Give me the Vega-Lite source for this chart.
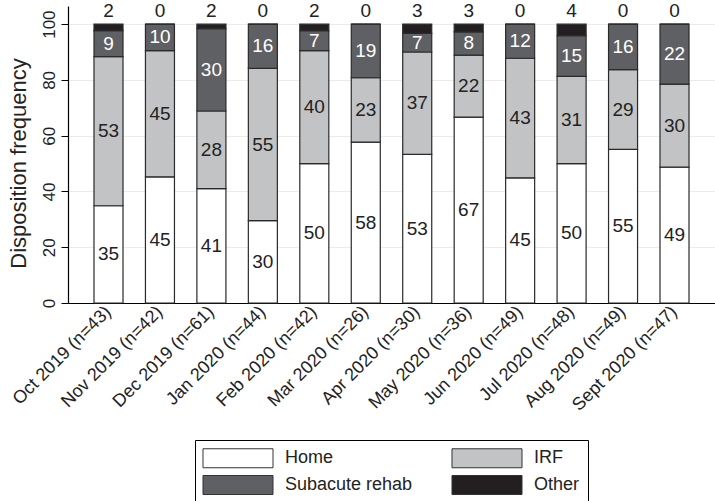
{
  "$schema": "https://vega.github.io/schema/vega-lite/v6.json",
  "width": 647,
  "height": 297,
  "autosize": {"type": "none"},
  "padding": {"left": 68, "top": 6, "right": 0, "bottom": 198},
  "background": "white",
  "config": {
    "font": "Liberation Sans",
    "view": {"stroke": null},
    "axis": {"labelFont": "Liberation Sans", "titleFont": "Liberation Sans", "labelColor": "#222", "titleColor": "#222"},
    "legend": {"labelFont": "Liberation Sans"}
  },
  "data": {
    "values": [
      {"month": "Oct 2019 (n=43)", "category": "Home", "ord": 1, "value": 34.88},
      {"month": "Oct 2019 (n=43)", "category": "IRF", "ord": 2, "value": 53.49},
      {"month": "Oct 2019 (n=43)", "category": "Subacute rehab", "ord": 3, "value": 9.30},
      {"month": "Oct 2019 (n=43)", "category": "Other", "ord": 4, "value": 2.33},
      {"month": "Nov 2019 (n=42)", "category": "Home", "ord": 1, "value": 45.24},
      {"month": "Nov 2019 (n=42)", "category": "IRF", "ord": 2, "value": 45.24},
      {"month": "Nov 2019 (n=42)", "category": "Subacute rehab", "ord": 3, "value": 9.52},
      {"month": "Nov 2019 (n=42)", "category": "Other", "ord": 4, "value": 0},
      {"month": "Dec 2019 (n=61)", "category": "Home", "ord": 1, "value": 40.98},
      {"month": "Dec 2019 (n=61)", "category": "IRF", "ord": 2, "value": 27.87},
      {"month": "Dec 2019 (n=61)", "category": "Subacute rehab", "ord": 3, "value": 29.51},
      {"month": "Dec 2019 (n=61)", "category": "Other", "ord": 4, "value": 1.64},
      {"month": "Jan 2020 (n=44)", "category": "Home", "ord": 1, "value": 29.55},
      {"month": "Jan 2020 (n=44)", "category": "IRF", "ord": 2, "value": 54.55},
      {"month": "Jan 2020 (n=44)", "category": "Subacute rehab", "ord": 3, "value": 15.91},
      {"month": "Jan 2020 (n=44)", "category": "Other", "ord": 4, "value": 0},
      {"month": "Feb 2020 (n=42)", "category": "Home", "ord": 1, "value": 50.00},
      {"month": "Feb 2020 (n=42)", "category": "IRF", "ord": 2, "value": 40.48},
      {"month": "Feb 2020 (n=42)", "category": "Subacute rehab", "ord": 3, "value": 7.14},
      {"month": "Feb 2020 (n=42)", "category": "Other", "ord": 4, "value": 2.38},
      {"month": "Mar 2020 (n=26)", "category": "Home", "ord": 1, "value": 57.69},
      {"month": "Mar 2020 (n=26)", "category": "IRF", "ord": 2, "value": 23.08},
      {"month": "Mar 2020 (n=26)", "category": "Subacute rehab", "ord": 3, "value": 19.23},
      {"month": "Mar 2020 (n=26)", "category": "Other", "ord": 4, "value": 0},
      {"month": "Apr 2020 (n=30)", "category": "Home", "ord": 1, "value": 53.33},
      {"month": "Apr 2020 (n=30)", "category": "IRF", "ord": 2, "value": 36.67},
      {"month": "Apr 2020 (n=30)", "category": "Subacute rehab", "ord": 3, "value": 6.67},
      {"month": "Apr 2020 (n=30)", "category": "Other", "ord": 4, "value": 3.33},
      {"month": "May 2020 (n=36)", "category": "Home", "ord": 1, "value": 66.67},
      {"month": "May 2020 (n=36)", "category": "IRF", "ord": 2, "value": 22.22},
      {"month": "May 2020 (n=36)", "category": "Subacute rehab", "ord": 3, "value": 8.33},
      {"month": "May 2020 (n=36)", "category": "Other", "ord": 4, "value": 2.78},
      {"month": "Jun 2020 (n=49)", "category": "Home", "ord": 1, "value": 44.90},
      {"month": "Jun 2020 (n=49)", "category": "IRF", "ord": 2, "value": 42.86},
      {"month": "Jun 2020 (n=49)", "category": "Subacute rehab", "ord": 3, "value": 12.24},
      {"month": "Jun 2020 (n=49)", "category": "Other", "ord": 4, "value": 0},
      {"month": "Jul 2020 (n=48)", "category": "Home", "ord": 1, "value": 50.00},
      {"month": "Jul 2020 (n=48)", "category": "IRF", "ord": 2, "value": 31.25},
      {"month": "Jul 2020 (n=48)", "category": "Subacute rehab", "ord": 3, "value": 14.58},
      {"month": "Jul 2020 (n=48)", "category": "Other", "ord": 4, "value": 4.17},
      {"month": "Aug 2020 (n=49)", "category": "Home", "ord": 1, "value": 55.10},
      {"month": "Aug 2020 (n=49)", "category": "IRF", "ord": 2, "value": 28.57},
      {"month": "Aug 2020 (n=49)", "category": "Subacute rehab", "ord": 3, "value": 16.33},
      {"month": "Aug 2020 (n=49)", "category": "Other", "ord": 4, "value": 0},
      {"month": "Sept 2020 (n=47)", "category": "Home", "ord": 1, "value": 48.70},
      {"month": "Sept 2020 (n=47)", "category": "IRF", "ord": 2, "value": 29.80},
      {"month": "Sept 2020 (n=47)", "category": "Subacute rehab", "ord": 3, "value": 21.50},
      {"month": "Sept 2020 (n=47)", "category": "Other", "ord": 4, "value": 0}
    ]
  },
  "encoding": {
    "x": {
      "field": "month",
      "type": "nominal",
      "sort": ["Oct 2019 (n=43)", "Nov 2019 (n=42)", "Dec 2019 (n=61)", "Jan 2020 (n=44)", "Feb 2020 (n=42)", "Mar 2020 (n=26)", "Apr 2020 (n=30)", "May 2020 (n=36)", "Jun 2020 (n=49)", "Jul 2020 (n=48)", "Aug 2020 (n=49)", "Sept 2020 (n=47)"],
      "scale": {"paddingInner": 0.436, "paddingOuter": 0.505},
      "axis": {
        "title": null,
        "labelAngle": -45,
        "labelAlign": "right",
        "labelBaseline": "middle",
        "labelFontSize": 18,
        "labelPadding": 6,
        "ticks": false,
        "domainColor": "black",
        "domainWidth": 1.2,
        "grid": false
      }
    }
  },
  "layer": [
    {
      "mark": {"type": "bar", "stroke": "#2a2a2a", "strokeWidth": 1.2},
      "encoding": {
        "y": {
          "field": "value",
          "type": "quantitative",
          "stack": "zero",
          "scale": {"domain": [0, 106.5], "nice": false, "zero": true},
          "axis": {
            "title": "Disposition frequency",
            "values": [0, 20, 40, 60, 80, 100],
            "labelAngle": -90,
            "labelAlign": "center",
            "labelBaseline": "alphabetic",
            "labelFontSize": 17,
            "labelPadding": 7,
            "tickSize": 7,
            "tickColor": "black",
            "domainColor": "black",
            "domainWidth": 1.2,
            "grid": true,
            "gridColor": "#ebebeb",
            "gridWidth": 1,
            "titleFontSize": 22,
            "titleFontWeight": "normal",
            "titleAngle": -90,
            "titleAlign": "center",
            "titleBaseline": "bottom",
            "titleX": -38,
            "titleY": 157
          }
        },
        "color": {
          "field": "category",
          "type": "nominal",
          "scale": {
            "domain": ["Home", "IRF", "Subacute rehab", "Other"],
            "range": ["#ffffff", "#c2c3c5", "#5f6064", "#231f20"]
          },
          "legend": {
            "title": null,
            "orient": "none",
            "legendX": 127,
            "legendY": 434,
            "columns": 2,
            "direction": "horizontal",
            "symbolType": "M-1.053,-1H6.316V1H-1.053Z",
            "symbolSize": 361,
            "symbolStrokeColor": "#333",
            "symbolStrokeWidth": 1,
            "symbolOpacity": 1,
            "symbolOffset": 0,
            "labelOffset": 62,
            "labelFontSize": 18,
            "labelColor": "#222",
            "columnPadding": 36,
            "rowPadding": 3,
            "padding": 8,
            "strokeColor": "black"
          }
        },
        "order": {"field": "ord", "type": "quantitative"}
      }
    },
    {
      "transform": [{"filter": "datum.category !== 'Other'"}],
      "mark": {"type": "text", "fontSize": 19, "baseline": "middle", "align": "center"},
      "encoding": {
        "y": {"field": "value", "type": "quantitative", "stack": "zero", "bandPosition": 0.5},
        "detail": {"field": "category", "type": "nominal"},
        "order": {"field": "ord", "type": "quantitative"},
        "text": {"field": "value", "type": "quantitative", "format": ".0f"},
        "color": {"condition": {"test": "datum.category === 'Subacute rehab'", "value": "white"}, "value": "#222"}
      }
    },
    {
      "transform": [{"filter": "datum.category === 'Other'"}],
      "mark": {"type": "text", "fontSize": 19, "baseline": "alphabetic", "align": "center", "dy": -7},
      "encoding": {
        "y": {"datum": 100},
        "text": {"field": "value", "type": "quantitative", "format": ".0f"},
        "color": {"value": "#222"}
      }
    }
  ]
}
